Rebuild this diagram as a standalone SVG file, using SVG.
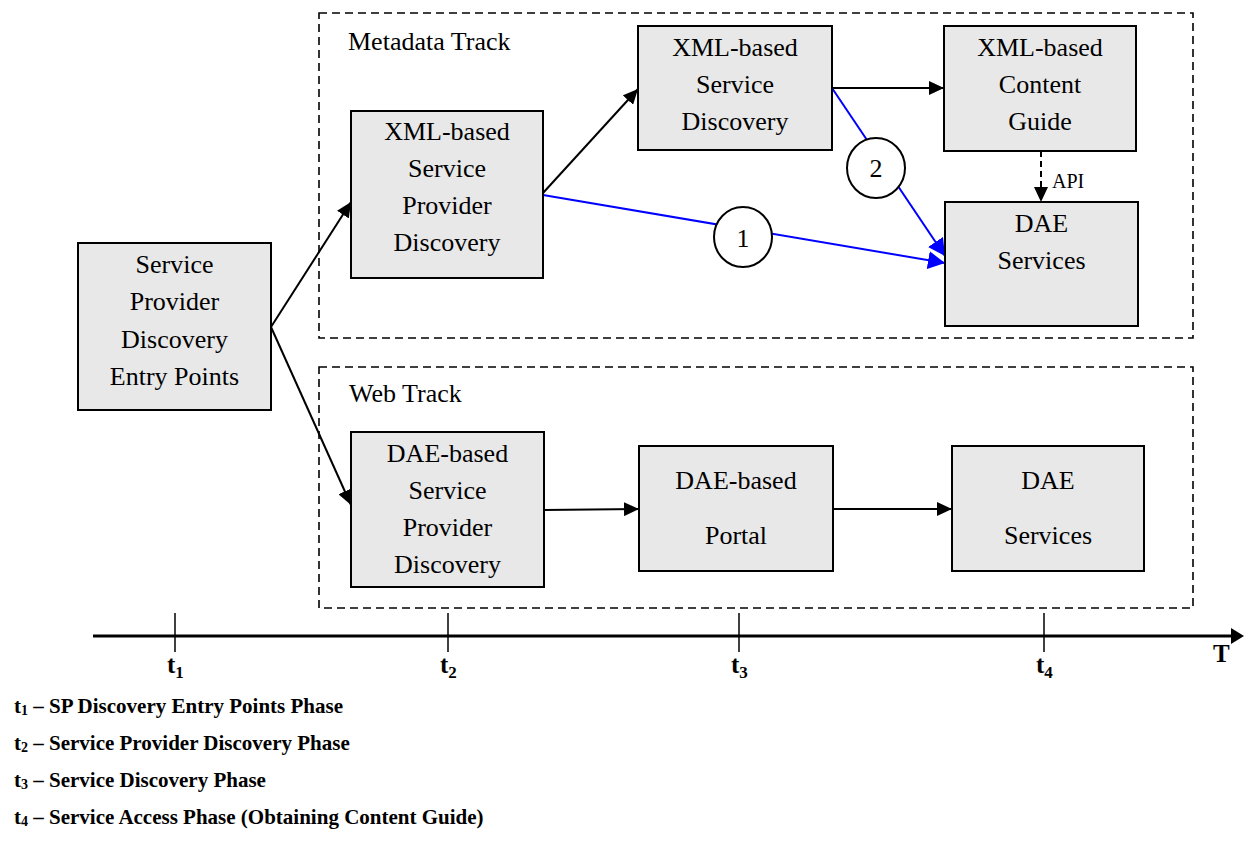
<svg xmlns="http://www.w3.org/2000/svg" width="1244" height="852" viewBox="0 0 1244 852">
<style>
.box{fill:#e8e8e8;stroke:#000;stroke-width:2}
.track{fill:none;stroke:#000;stroke-width:1.6;stroke-dasharray:8,5}
.t{font-family:"Liberation Serif","Times New Roman",serif;font-size:26px;fill:#000;text-anchor:middle}
.lbl{font-family:"Liberation Serif","Times New Roman",serif;font-size:26px;fill:#000}
.conn{fill:none;stroke:#000;stroke-width:2}
.blue{fill:none;stroke:#0000ff;stroke-width:2}
.leg{font-family:"Liberation Serif","Times New Roman",serif;font-size:21px;font-weight:bold;fill:#000}
.tl{font-family:"Liberation Serif","Times New Roman",serif;font-size:25px;font-weight:bold;fill:#000}
.api{font-family:"Liberation Serif","Times New Roman",serif;font-size:20px;fill:#000}
</style>
<defs>
<marker id="ah" markerUnits="userSpaceOnUse" markerWidth="16" markerHeight="14" refX="15" refY="7" orient="auto"><path d="M0,0 L15,7 L0,14 z" fill="#000"/></marker>
<marker id="ahb" markerUnits="userSpaceOnUse" markerWidth="18" markerHeight="18" refX="17" refY="9" orient="auto"><path d="M0,0 L17,9 L0,18 z" fill="#0000ff"/></marker>
</defs>
<rect x="0" y="0" width="1244" height="852" fill="#fff"/>

<g id="tracks">
<rect class="track" x="319" y="13" width="874" height="325"/>
<text class="lbl" x="348" y="50">Metadata Track</text>
<rect class="track" x="319" y="367" width="874" height="241"/>
<text class="lbl" x="349" y="402">Web Track</text>
</g>

<g id="connectors">
<line class="conn" x1="271" y1="327" x2="351" y2="202" marker-end="url(#ah)"/>
<line class="conn" x1="271" y1="327" x2="351" y2="505" marker-end="url(#ah)"/>
<line class="conn" x1="543" y1="193" x2="638" y2="89" marker-end="url(#ah)"/>
<line class="conn" x1="832" y1="88" x2="944" y2="88" marker-end="url(#ah)"/>
<line class="conn" x1="1041" y1="151" x2="1041" y2="202" stroke-dasharray="6,4" marker-end="url(#ah)"/>
<text class="api" x="1052" y="188">API</text>
<line class="conn" x1="544" y1="510" x2="639" y2="509" marker-end="url(#ah)"/>
<line class="conn" x1="833" y1="509" x2="952" y2="509" marker-end="url(#ah)"/>
<line class="blue" x1="543" y1="195" x2="945" y2="263" marker-end="url(#ahb)"/>
<line class="blue" x1="832" y1="88" x2="945" y2="256" marker-end="url(#ahb)"/>
<g id="marker1">
<ellipse cx="743" cy="237" rx="29" ry="30" fill="#fff" stroke="#000" stroke-width="2"/>
<text class="t" x="743" y="247">1</text>
</g>
<g id="marker2">
<ellipse cx="876" cy="168" rx="29" ry="30" fill="#fff" stroke="#000" stroke-width="2"/>
<text class="t" x="876" y="177">2</text>
</g>
</g>

<g id="sp-entry">
<rect class="box" x="78" y="243" width="193" height="167"/>
<text class="t" x="174.5" y="273">Service</text>
<text class="t" x="174.5" y="310">Provider</text>
<text class="t" x="174.5" y="348">Discovery</text>
<text class="t" x="174.5" y="385">Entry Points</text>
</g>

<g id="xml-spd">
<rect class="box" x="351" y="111" width="192" height="167"/>
<text class="t" x="447" y="140">XML-based</text>
<text class="t" x="447" y="177">Service</text>
<text class="t" x="447" y="214">Provider</text>
<text class="t" x="447" y="251">Discovery</text>
</g>

<g id="xml-sd">
<rect class="box" x="638" y="26" width="194" height="124"/>
<text class="t" x="735" y="56">XML-based</text>
<text class="t" x="735" y="93">Service</text>
<text class="t" x="735" y="130">Discovery</text>
</g>

<g id="xml-cg">
<rect class="box" x="944" y="26" width="192" height="125"/>
<text class="t" x="1040" y="56">XML-based</text>
<text class="t" x="1040" y="93">Content</text>
<text class="t" x="1040" y="130">Guide</text>
</g>

<g id="dae-services-meta">
<rect class="box" x="945" y="202" width="193" height="124"/>
<text class="t" x="1041.5" y="232">DAE</text>
<text class="t" x="1041.5" y="269">Services</text>
</g>

<g id="dae-spd">
<rect class="box" x="351" y="432" width="193" height="155"/>
<text class="t" x="447.5" y="462">DAE-based</text>
<text class="t" x="447.5" y="499">Service</text>
<text class="t" x="447.5" y="536">Provider</text>
<text class="t" x="447.5" y="573">Discovery</text>
</g>

<g id="dae-portal">
<rect class="box" x="639" y="446" width="194" height="125"/>
<text class="t" x="736" y="489">DAE-based</text>
<text class="t" x="736" y="544">Portal</text>
</g>

<g id="dae-services-web">
<rect class="box" x="952" y="446" width="192" height="125"/>
<text class="t" x="1048" y="489">DAE</text>
<text class="t" x="1048" y="544">Services</text>
</g>

<g id="timeline">
<line x1="93" y1="636" x2="1232" y2="636" stroke="#000" stroke-width="3"/>
<polygon points="1231,628 1244,636 1231,644" fill="#000"/>
<line x1="175" y1="613" x2="175" y2="652" stroke="#000" stroke-width="1.5"/>
<line x1="448" y1="613" x2="448" y2="652" stroke="#000" stroke-width="1.5"/>
<line x1="739" y1="613" x2="739" y2="652" stroke="#000" stroke-width="1.5"/>
<line x1="1044" y1="613" x2="1044" y2="652" stroke="#000" stroke-width="1.5"/>
<text class="tl" x="167" y="673">t<tspan font-size="17" dy="5">1</tspan></text>
<text class="tl" x="440" y="673">t<tspan font-size="17" dy="5">2</tspan></text>
<text class="tl" x="731" y="673">t<tspan font-size="17" dy="5">3</tspan></text>
<text class="tl" x="1036" y="673">t<tspan font-size="17" dy="5">4</tspan></text>
<text class="tl" x="1213" y="662" font-size="26">T</text>
</g>

<g id="legend">
<text class="leg" x="14" y="713">t<tspan font-size="14" dy="2">1</tspan><tspan dy="-2"> – SP Discovery Entry Points Phase</tspan></text>
<text class="leg" x="14" y="750">t<tspan font-size="14" dy="2">2</tspan><tspan dy="-2"> – Service Provider Discovery Phase</tspan></text>
<text class="leg" x="14" y="787">t<tspan font-size="14" dy="2">3</tspan><tspan dy="-2"> – Service Discovery Phase</tspan></text>
<text class="leg" x="14" y="824">t<tspan font-size="14" dy="2">4</tspan><tspan dy="-2"> – Service Access Phase (Obtaining Content Guide)</tspan></text>
</g>
</svg>
